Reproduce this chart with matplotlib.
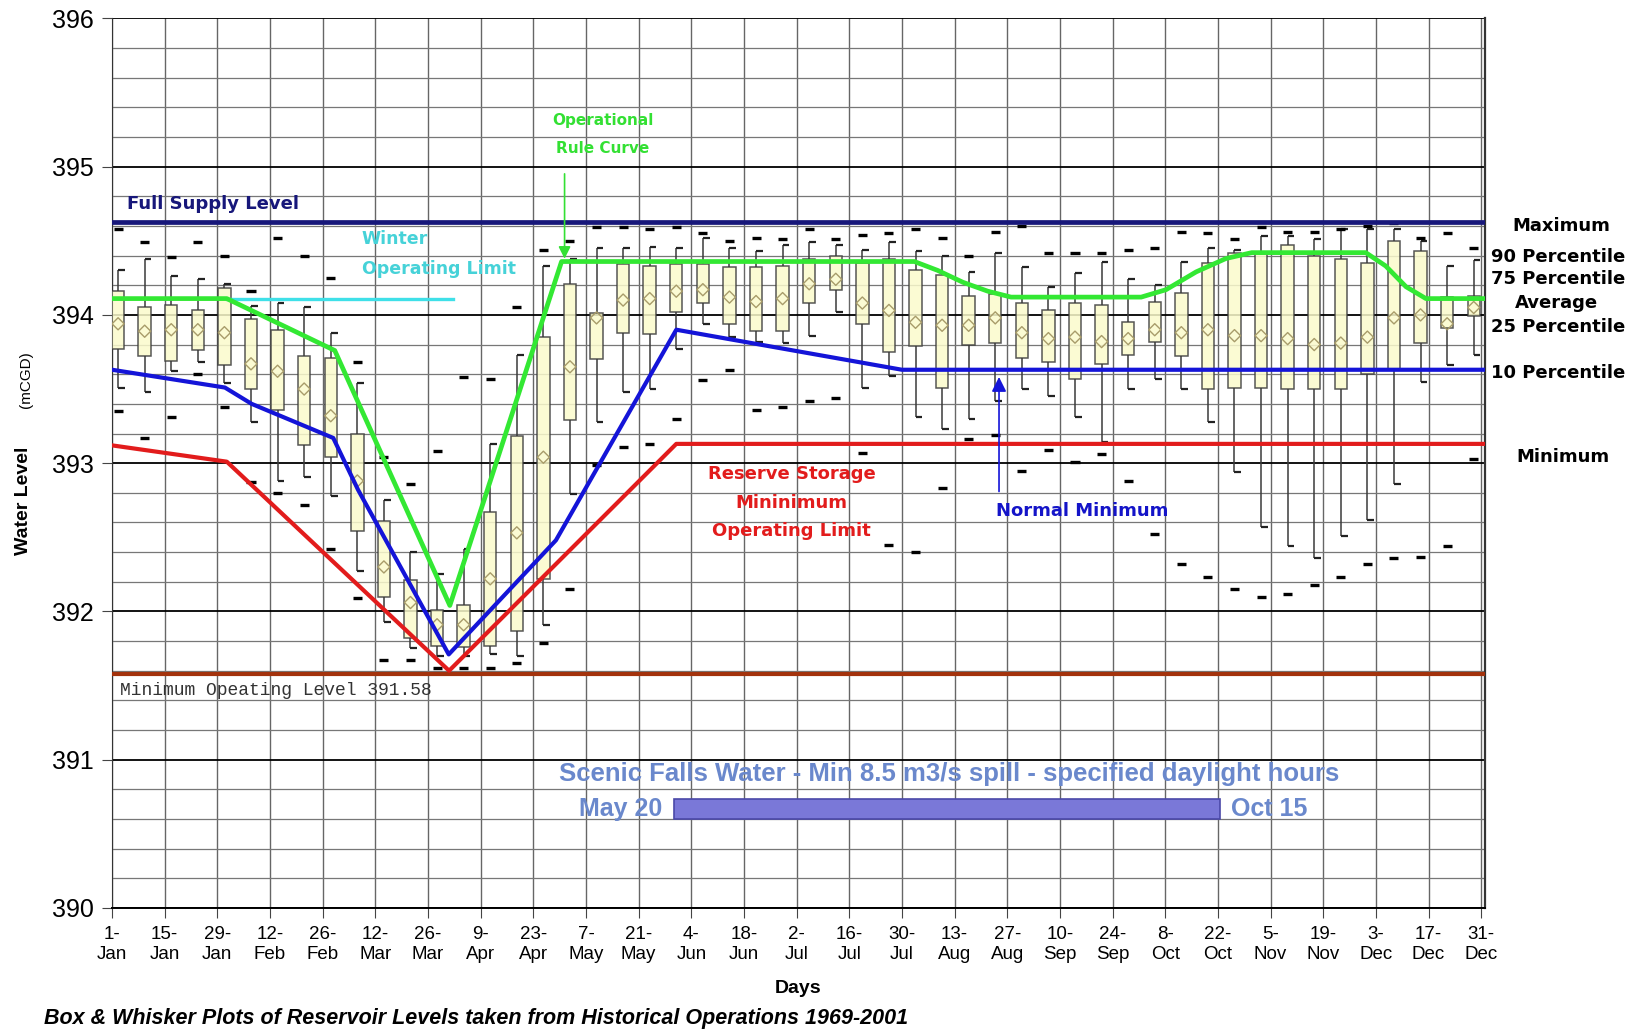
import numpy as np
import matplotlib
matplotlib.use('Agg')
import matplotlib.pyplot as plt

plt.rcParams['font.family'] = ['Liberation Sans', 'DejaVu Sans']

# weekly box plot positions, as day of year (0 = 1 Jan)
week_day = np.linspace(1.6, 362, 52)

# historical reservoir levels per week (mCGD)
lvl_max = [394.58, 394.49, 394.39, 394.49, 394.40, 394.16, 394.52, 394.40, 394.25, 393.68,
           393.04, 392.86, 393.08, 393.58, 393.57, 394.05, 394.44, 394.50, 394.59, 394.59,
           394.58, 394.59, 394.55, 394.50, 394.52, 394.51, 394.58, 394.51, 394.54, 394.55,
           394.58, 394.52, 394.40, 394.56, 394.60, 394.42, 394.42, 394.42, 394.44, 394.45,
           394.56, 394.55, 394.51, 394.59, 394.56, 394.56, 394.58, 394.60, 394.62, 394.52,
           394.55, 394.45]
lvl_p90 = [394.30, 394.38, 394.26, 394.24, 394.21, 394.06, 394.08, 394.05, 393.88, 393.54,
           392.75, 392.40, 392.25, 392.42, 393.13, 393.73, 394.33, 394.38, 394.45, 394.45,
           394.46, 394.45, 394.52, 394.45, 394.43, 394.47, 394.49, 394.47, 394.44, 394.49,
           394.43, 394.40, 394.29, 394.42, 394.32, 394.19, 394.28, 394.36, 394.24, 394.20,
           394.36, 394.45, 394.44, 394.53, 394.53, 394.51, 394.58, 394.58, 394.58, 394.50,
           394.33, 394.37]
lvl_p75 = [394.16, 394.05, 394.07, 394.03, 394.18, 393.97, 393.90, 393.72, 393.71, 393.20,
           392.61, 392.21, 392.01, 392.04, 392.67, 393.18, 393.85, 394.21, 394.01, 394.34,
           394.33, 394.34, 394.34, 394.32, 394.32, 394.33, 394.38, 394.40, 394.35, 394.38,
           394.30, 394.27, 394.13, 394.14, 394.08, 394.03, 394.08, 394.07, 393.95, 394.09,
           394.15, 394.35, 394.42, 394.42, 394.47, 394.40, 394.38, 394.35, 394.50, 394.43,
           394.12, 394.13]
lvl_avg = [393.94, 393.89, 393.90, 393.90, 393.88, 393.67, 393.62, 393.50, 393.32, 392.88,
           392.30, 392.06, 391.91, 391.91, 392.22, 392.53, 393.04, 393.65, 393.98, 394.10,
           394.11, 394.16, 394.17, 394.12, 394.09, 394.11, 394.21, 394.24, 394.08, 394.03,
           393.95, 393.93, 393.93, 393.98, 393.88, 393.84, 393.85, 393.82, 393.84, 393.90,
           393.88, 393.90, 393.86, 393.86, 393.84, 393.80, 393.81, 393.85, 393.98, 394.00,
           393.94, 394.05]
lvl_p25 = [393.77, 393.72, 393.69, 393.76, 393.66, 393.50, 393.36, 393.12, 393.04, 392.54,
           392.10, 391.82, 391.77, 391.76, 391.77, 391.87, 392.22, 393.29, 393.70, 393.88,
           393.87, 394.02, 394.08, 393.94, 393.89, 393.89, 394.08, 394.17, 393.94, 393.75,
           393.79, 393.51, 393.80, 393.81, 393.71, 393.68, 393.57, 393.67, 393.73, 393.82,
           393.72, 393.50, 393.51, 393.51, 393.50, 393.50, 393.50, 393.60, 393.63, 393.81,
           393.91, 393.99]
lvl_p10 = [393.51, 393.48, 393.62, 393.68, 393.54, 393.28, 392.88, 392.91, 392.78, 392.27,
           391.93, 391.75, 391.70, 391.70, 391.71, 391.70, 391.91, 392.79, 393.28, 393.48,
           393.50, 393.77, 393.94, 393.85, 393.82, 393.81, 393.86, 394.02, 393.51, 393.59,
           393.31, 393.23, 393.30, 393.42, 393.50, 393.45, 393.31, 393.14, 393.50, 393.57,
           393.50, 393.28, 392.94, 392.57, 392.44, 392.36, 392.51, 392.62, 392.86, 393.55,
           393.66, 393.73]
lvl_min = [393.35, 393.17, 393.31, 393.60, 393.38, 392.87, 392.80, 392.72, 392.42, 392.09,
           391.67, 391.67, 391.62, 391.62, 391.62, 391.65, 391.79, 392.15, 392.99, 393.11,
           393.13, 393.30, 393.56, 393.63, 393.36, 393.38, 393.42, 393.44, 393.07, 392.45,
           392.40, 392.83, 393.16, 393.19, 392.95, 393.09, 393.01, 393.06, 392.88, 392.52,
           392.32, 392.23, 392.15, 392.10, 392.12, 392.18, 392.23, 392.32, 392.36, 392.37,
           392.44, 393.03]

# operating curves (day of year, level)
rule_day = [0, 30.5, 59.2, 89.8, 119.5, 213.3, 219.5, 226.2, 232.8, 239, 273.6, 280.2,
            288.2, 296.1, 303, 333.3, 338.6, 344, 349.3, 365]
rule_lvl = [394.11, 394.11, 393.76, 392.04, 394.36, 394.36, 394.30, 394.22, 394.16, 394.12,
            394.12, 394.17, 394.29, 394.38, 394.42, 394.42, 394.33, 394.19, 394.11, 394.11]
normal_min_day = [0, 30, 37.1, 58.8, 65.4, 89.5, 118, 150, 210, 365]
normal_min_lvl = [393.63, 393.51, 393.40, 393.17, 392.82, 391.71, 392.48, 393.90, 393.63, 393.63]
reserve_day = [0, 30.5, 89.6, 150, 365]
reserve_lvl = [393.12, 393.01, 391.60, 393.13, 393.13]
winter_day = [30.5, 90.6]
winter_lvl = 394.11
full_supply = 394.625
min_operating = 391.58
spill_start, spill_end = 149.3, 294.6

tick_days = np.arange(0, 365, 14)
tick_labels = ['1-\nJan', '15-\nJan', '29-\nJan', '12-\nFeb', '26-\nFeb', '12-\nMar', '26-\nMar',
               '9-\nApr', '23-\nApr', '7-\nMay', '21-\nMay', '4-\nJun', '18-\nJun', '2-\nJul',
               '16-\nJul', '30-\nJul', '13-\nAug', '27-\nAug', '10-\nSep', '24-\nSep', '8-\nOct',
               '22-\nOct', '5-\nNov', '19-\nNov', '3-\nDec', '17-\nDec', '31-\nDec']

wide = ['DejaVu Sans']

fig = plt.figure(figsize=(16.36, 10.32), dpi=100)
ax = fig.add_axes([0.0685, 0.1202, 0.8392, 0.862])

# box and whisker plots
box_w = 3.3
ax.bar(week_day, np.array(lvl_p75) - np.array(lvl_p25), bottom=lvl_p25, width=box_w,
       color='#fbfbcc', alpha=0.85, edgecolor='#3a3a3a', linewidth=1.1, zorder=3)
ax.vlines(week_day, lvl_p75, lvl_p90, color='#3a3a3a', lw=1.1, zorder=3)
ax.vlines(week_day, lvl_p10, lvl_p25, color='#3a3a3a', lw=1.1, zorder=3)
ax.hlines(lvl_p90, week_day, week_day + 1.8, color='#222222', lw=1.6, zorder=3)
ax.hlines(lvl_p10, week_day, week_day + 1.8, color='#222222', lw=1.6, zorder=3)
ax.hlines(lvl_max, week_day - 1.2, week_day + 1.2, color='black', lw=2.4, zorder=3)
ax.hlines(lvl_min, week_day - 1.2, week_day + 1.2, color='black', lw=2.4, zorder=3)
ax.scatter(week_day, lvl_avg, marker='D', s=38, facecolors='none', edgecolors='#a89c6a',
           linewidths=1.0, zorder=4)

# limit lines
ax.axhline(full_supply, color='#17177a', lw=3.4, zorder=5)
ax.axhline(min_operating, color='#a3320c', lw=3.0, zorder=5)
ax.plot(reserve_day, reserve_lvl, color='#e21c1c', lw=3.0, zorder=5)
ax.plot(normal_min_day, normal_min_lvl, color='#1414d8', lw=3.0, zorder=6)
ax.plot(winter_day, [winter_lvl, winter_lvl], color='#3fe0e8', lw=2.4, zorder=5)
ax.plot(rule_day, rule_lvl, color='#33e833', lw=3.4, zorder=7)

# annotations
ax.text(4, 394.75, 'Full Supply Level', family=wide, color='#17177a', fontsize=13, weight='bold', va='center')
ax.text(66.4, 394.51, 'Winter', family=wide, color='#46d2d8', fontsize=12.5, weight='bold', va='center')
ax.text(66.4, 394.31, 'Operating Limit', family=wide, color='#46d2d8', fontsize=12.5, weight='bold', va='center')
ax.text(130.4, 395.31, 'Operational', family=wide, color='#33e033', fontsize=11, weight='bold',
        ha='center', va='center')
ax.text(130.4, 395.12, 'Rule Curve', family=wide, color='#33e033', fontsize=11, weight='bold',
        ha='center', va='center')
ax.annotate('', xy=(120.3, 394.36), xytext=(120.3, 394.97),
            arrowprops=dict(arrowstyle='-|>', color='#33e033', lw=1.2, mutation_scale=18), zorder=8)
for txt, lv in [('Reserve Storage', 392.93), ('Mininimum', 392.73), ('Operating Limit', 392.54)]:
    ax.text(180.7, lv, txt, family=wide, color='#e21c1c', fontsize=13, weight='bold',
            ha='center', va='center')
ax.text(235, 392.68, 'Normal Minimum', family=wide, color='#1414c8', fontsize=13, weight='bold', va='center')
ax.annotate('', xy=(235.8, 393.6), xytext=(235.8, 392.79),
            arrowprops=dict(arrowstyle='-|>', color='#1414d8', lw=1.2, mutation_scale=22), zorder=8)
ax.text(2, 391.47, 'Minimum Opeating Level 391.58', family=['Liberation Mono', 'DejaVu Sans Mono'],
        fontsize=13, color='#333333', va='center')

ax.text(222.5, 390.905, 'Scenic Falls Water - Min 8.5 m3/s spill - specified daylight hours',
        fontsize=18.5, weight='bold', color='#6a88cc', ha='center', va='center')
ax.barh(390.668, spill_end - spill_start, left=spill_start, height=0.14,
        color='#7a78d8', edgecolor='#4a48a8', lw=1.2, zorder=5)
ax.text(spill_start - 3, 390.67, 'May 20', fontsize=18, weight='bold',
        color='#6a88cc', ha='right', va='center')
ax.text(spill_end + 3, 390.67, 'Oct 15', fontsize=18, weight='bold',
        color='#6a88cc', ha='left', va='center')

# legend of box parts, right of the plot
ax.text(385.2, 394.60, 'Maximum', family=wide, fontsize=13, weight='bold', ha='center', va='center')
ax.text(366.6, 394.39, '90 Percentile', family=wide, fontsize=13, weight='bold', va='center')
ax.text(366.6, 394.24, '75 Percentile', family=wide, fontsize=13, weight='bold', va='center')
ax.text(384.0, 394.08, 'Average', family=wide, fontsize=13, weight='bold', ha='center', va='center')
ax.text(366.6, 393.92, '25 Percentile', family=wide, fontsize=13, weight='bold', va='center')
ax.text(366.6, 393.61, '10 Percentile', family=wide, fontsize=13, weight='bold', va='center')
ax.text(385.8, 393.04, 'Minimum', family=wide, fontsize=13, weight='bold', ha='center', va='center')

# axes, ticks and grid
ax.set_xlim(0, 365)
ax.set_ylim(390, 396)
ax.set_xticks(tick_days)
ax.set_xticklabels(tick_labels, fontsize=13.5)
ax.set_yticks(np.arange(390, 396.1, 1))
ax.set_yticklabels([str(v) for v in range(390, 397)], fontsize=18)
ax.set_yticks(np.arange(390, 396.01, 0.2), minor=True)
ax.tick_params(axis='both', which='major', direction='out', length=7, color='#444444', pad=6)
ax.tick_params(axis='y', which='minor', length=0)
ax.grid(True, which='major', axis='y', color='black', lw=1.3, zorder=0)
ax.grid(True, which='minor', axis='y', color='#777777', lw=0.9, zorder=0)
ax.grid(True, which='major', axis='x', color='#666666', lw=1.0, zorder=0)
ax.set_axisbelow(True)
ax.spines['top'].set_visible(False)
ax.spines['right'].set_color('#333333')
ax.spines['right'].set_linewidth(1.6)
ax.spines['left'].set_color('#333333')
ax.spines['bottom'].set_color('black')
ax.spines['bottom'].set_linewidth(1.4)

fig.text(0.0141, 0.5145, 'Water Level', rotation=90, fontsize=14, weight='bold', ha='center', va='center')
fig.text(0.0159, 0.632, '(mCGD)', rotation=90, fontsize=11, ha='center', va='center')
fig.text(0.488, 0.0417, 'Days', fontsize=14, weight='bold', ha='center', va='center')
fig.text(0.027, 0.0126, 'Box & Whisker Plots of Reservoir Levels taken from Historical Operations 1969-2001',
         fontsize=15.5, weight='bold', style='italic', va='center')

fig.savefig('out.png', dpi=100)
